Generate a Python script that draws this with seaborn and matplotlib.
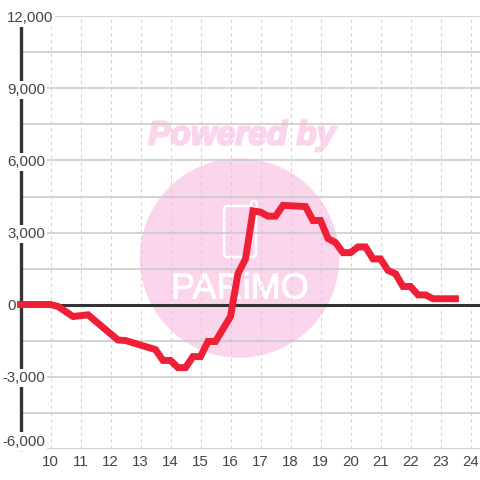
import matplotlib.patheffects as pe
import matplotlib.pyplot as plt
import seaborn as sns
from matplotlib.patches import Circle, FancyBboxPatch

hours = [9, 10, 10.25, 10.75, 11.25, 12.25, 12.5, 13.5, 13.75, 14, 14.25, 14.5, 14.75, 15,
         15.25, 15.5, 16, 16.25, 16.5, 16.75, 17, 17.25, 17.5, 17.75, 18.5, 18.75, 19,
         19.25, 19.5, 19.75, 20, 20.25, 20.5, 20.75, 21, 21.25, 21.5, 21.75, 22, 22.25,
         22.5, 22.75, 23.5]
values = [0, 0, -80, -500, -430, -1480, -1500, -1880, -2330, -2330, -2630, -2630, -2170, -2170,
          -1540, -1540, -500, 1290, 1900, 3900, 3850, 3680, 3680, 4130, 4080, 3500, 3500,
          2750, 2580, 2160, 2160, 2400, 2400, 1900, 1900, 1420, 1280, 750, 750, 400,
          400, 240, 240]

x_ticks = list(range(10, 25))
y_grid = list(range(-6000, 12001, 1500))
y_labels = [-6000, -3000, 0, 3000, 6000, 9000, 12000]

text_color = "#444444"
grid_color = "#c8c8c8"
pink = "#fbd5ec"

sns.set_style("white")
plt.rcParams["font.family"] = ["Liberation Sans", "DejaVu Sans"]

fig = plt.figure(figsize=(4.8, 4.8), dpi=100)
ax = fig.add_axes([20.5 / 480, 31.5 / 480, 459.5 / 480, 432 / 480])
ax.patch.set_visible(False)

# Watermark sits behind the axes.
fig.add_artist(Circle((239.5 / 480, 222 / 480), 99 / 480, transform=fig.transFigure,
                      color=pink, zorder=-2))
fig.add_artist(FancyBboxPatch((224 / 480, 223 / 480), 32 / 480, 51 / 480,
                              boxstyle="round,pad=0,rounding_size=0.008",
                              transform=fig.transFigure, fc="none", ec="white", lw=1.8, zorder=-1))
fig.add_artist(FancyBboxPatch((251 / 480, 272 / 480), 6 / 480, 7 / 480,
                              boxstyle="round,pad=0,rounding_size=0.005",
                              transform=fig.transFigure, fc=pink, ec="white", lw=1.5, zorder=-1))
fig.text(242 / 480, 344 / 480, "Powered by", color=pink, fontsize=24, fontweight="bold",
         fontstyle="italic", ha="center", va="center", zorder=-1,
         path_effects=[pe.withStroke(linewidth=1.6, foreground=pink)])
fig.text(240 / 480, 191 / 480, "PARiMO", color="white", fontsize=26, ha="center", va="center",
         zorder=-1, path_effects=[pe.withStroke(linewidth=0.6, foreground="white")])

ax.axhline(0, color="#333333", lw=2.2, zorder=2)
sns.lineplot(x=hours, y=values, ax=ax, color="#ef2036", lw=5, zorder=3, clip_on=False,
             solid_capstyle="projecting", solid_joinstyle="miter", errorbar=None, sort=False)

ax.set_xlim(9, 9 + 459.5 / 30)
ax.set_ylim(-6000, 12000)
ax.set_xticks(x_ticks)
ax.set_yticks(y_grid)
ax.set_yticklabels([])
ax.set_axisbelow(True)
ax.xaxis.grid(True, color="#d0d0d0", lw=0.75, ls=(0, (3, 3.5)))
ax.yaxis.grid(True, color=grid_color, lw=1.1)
ax.tick_params(axis="x", length=0, pad=5, labelsize=10.8, labelcolor=text_color)
ax.tick_params(axis="y", length=0)

for side in ["top", "right", "bottom"]:
    ax.spines[side].set_visible(False)
ax.spines["left"].set_color("#333333")
ax.spines["left"].set_linewidth(2.4)
ax.spines["left"].set_zorder(1)

# Labels lie over the axis line, on a white box.
for v in y_labels:
    offset = -18 if v < 0 else -13.5
    ax.annotate(f"{v:,}", xy=(0, v), xycoords=ax.get_yaxis_transform(),
                xytext=(offset * 0.72, 0 if v == -6000 else -0.8), textcoords="offset points",
                ha="left", va="bottom" if v == -6000 else "center",
                fontsize=10.8, color=text_color, zorder=1.5, annotation_clip=False,
                bbox=dict(fc="white", ec="none", pad=1.5))

fig.savefig("out.png", dpi=100)
